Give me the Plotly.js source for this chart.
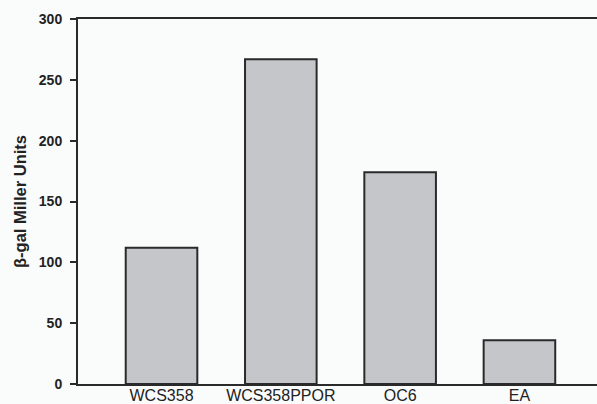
<!DOCTYPE html>
<html>
<head>
<meta charset="utf-8">
<script src="https://cdn.plot.ly/plotly-3.0.1.min.js"></script>
<style>html,body{margin:0;padding:0;background:#fafbfb;}#chart{width:597px;height:404px;}</style>
</head>
<body>
<div id="chart"></div>
<script>
var categories = ["WCS358", "WCS358PPOR", "OC6", "EA"];
var millerUnits = [112, 267, 174, 36];
var yTicks = [0, 50, 100, 150, 200, 250, 300];

var trace = {
  type: "bar",
  x: categories,
  y: millerUnits,
  marker: {color: "#c5c6ca", line: {color: "#2a2a2a", width: 2}},
  hoverinfo: "none"
};

var layout = {
  width: 597,
  height: 404,
  margin: {l: 78, r: 0, t: 19, b: 20, pad: 0},
  paper_bgcolor: "#fafbfb",
  plot_bgcolor: "#fafbfb",
  bargap: 0.4,
  showlegend: false,
  font: {family: "Liberation Sans, Arial, sans-serif", color: "#222"},
  xaxis: {
    type: "category",
    range: [-0.7, 3.65],
    showline: true, linecolor: "#2a2a2a", linewidth: 2, mirror: true,
    ticks: "", showgrid: false, zeroline: false,
    tickfont: {size: 16, color: "#222"},
    ticklabelstandoff: -4,
    automargin: false
  },
  yaxis: {
    range: [0, 300],
    tickvals: yTicks,
    ticktext: yTicks.map(String),
    showline: true, linecolor: "#2a2a2a", linewidth: 2, mirror: false,
    ticks: "outside", ticklen: 6, tickwidth: 2, tickcolor: "#2a2a2a",
    ticklabelstandoff: 5,
    showgrid: false, zeroline: false,
    tickfont: {size: 14, color: "#222", weight: "bold"},
    title: {text: "β-gal Miller Units", font: {size: 16.5, weight: "bold", color: "#222"}, standoff: 8},
    automargin: false
  }
};

Plotly.newPlot("chart", [trace], layout, {displayModeBar: false, staticPlot: true});
</script>
</body>
</html>
